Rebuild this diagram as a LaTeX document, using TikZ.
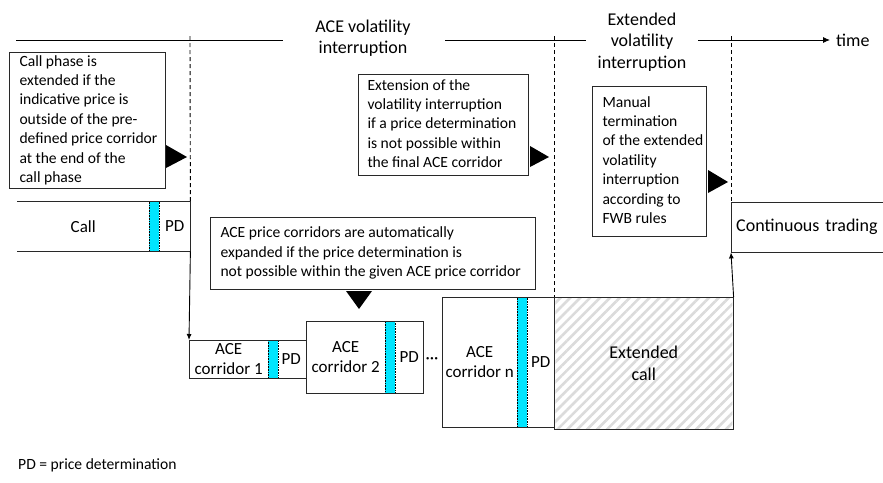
\documentclass[tikz,border=0pt]{standalone}
\usepackage{fontspec}
\setmainfont{Carlito}
\usetikzlibrary{arrows.meta,patterns.meta}
\definecolor{pdcyan}{RGB}{0,229,255}
\definecolor{edge}{RGB}{40,40,40}
\newcommand{\calltext}[3]{\makebox[#1pt][l]{\hspace{#2pt}\begin{tabular}{@{}l@{}}#3\end{tabular}}}
\begin{document}
\begin{tikzpicture}[x=1pt,y=-1pt,
  boxtext/.style={font=\fontsize{15.6}{19.4}\selectfont},
  lbl/.style={font=\fontsize{18}{21.5}\selectfont, align=center, inner sep=0pt},
  callout/.style={draw=edge, line width=1pt, boxtext, inner sep=0pt, anchor=north west},
  plabel/.style={font=\fontsize{17}{20}\selectfont, align=center, inner sep=0pt, anchor=north west},
  bigplabel/.style={font=\fontsize{18}{21.5}\selectfont, align=center, inner sep=0pt, anchor=north west},
  pdbar/.style={fill=pdcyan, draw=black, densely dotted, line width=0.6pt, anchor=north west, inner sep=0pt, minimum width=10pt},
  outline/.style={draw=edge, line width=1pt},
  tri/.style={fill=black},
  tl/.style={line width=0.9pt},
  vdash/.style={line width=0.9pt, dash pattern=on 4pt off 3pt},
  arr/.style={line width=0.9pt, -{Latex[length=6pt,width=5pt]}},
]
\useasboundingbox (0,0) rectangle (883,482);

% timeline
\coordinate (t0) at (16,40);
\coordinate (t1) at (283,40);
\coordinate (t2) at (445,40);
\coordinate (t3) at (586,40);
\coordinate (t4) at (698,40);
\coordinate (t5) at (830,40);
\node[lbl] (lab1) at (363,38) {ACE volatility\\interruption};
\node[lbl] (lab2) at (642,42) {Extended\\volatility\\interruption};
\node[lbl, anchor=west] (time) at (836,40) {time};
\draw[tl] (t0) -- (t1);
\draw[tl] (t2) -- (t3);
\draw[tl, -{Latex[length=7pt,width=6pt]}] (t4) -- (t5);

% Call phase
\node[plabel, minimum width=132pt, minimum height=50pt] (call) at (17,201) {Call};
\node[pdbar, minimum height=50pt] (bar0) at (149,201) {};
\node[plabel, minimum width=31pt, minimum height=50pt] (pd0) at (159,201) {PD};
\draw[outline] (call.north west) -- (pd0.north east) -- (pd0.south east) -- (call.south west);

% ACE corridor 1
\node[plabel, minimum width=79pt, minimum height=38pt] (c1) at (189,340) {ACE\\corridor 1};
\node[pdbar, minimum height=38pt] (bar1) at (268,340) {};
\node[plabel, minimum width=30pt, minimum height=38pt] (pd1) at (276,340) {PD};
\draw[outline] (c1.north west) rectangle (pd1.south east);

% ACE corridor 2
\node[plabel, minimum width=79pt, minimum height=72pt] (c2) at (306,321) {ACE\\corridor 2};
\node[pdbar, minimum height=72pt] (bar2) at (385,321) {};
\node[plabel, minimum width=28pt, minimum height=72pt] (pd2) at (395,321) {PD};
\draw[outline] (c2.north west) rectangle (pd2.south east);

\node[plabel, anchor=center] (dots) at (432,361) {\textperiodcentered\textperiodcentered\textperiodcentered};

% ACE corridor n
\node[plabel, minimum width=75pt, minimum height=130pt] (cn) at (442,297) {ACE\\corridor n};
\node[pdbar, minimum height=130pt] (barn) at (517,297) {};
\node[plabel, minimum width=27pt, minimum height=130pt] (pdn) at (527,297) {PD};
\draw[outline] (cn.north west) rectangle (pdn.south east);

% Extended call
\node[bigplabel, minimum width=177pt, minimum height=130pt,
      pattern={Lines[angle=45,distance=7pt,line width=2.6pt]}, pattern color=black!14] (ext) at (554,297) {Extended\\call};
\draw[outline] (ext.north west) rectangle (ext.south east);

% Continuous trading
\node[bigplabel, minimum width=152pt, minimum height=50pt, text width=142pt, align=left] (cont) at (731,202) {Continuous trading};
\draw[outline] (cont.north east) -- (cont.north west) -- (cont.south west) -- (cont.south east);

% dashed verticals
\coordinate (d1) at (190,36);
\coordinate (d2) at (554,36);
\coordinate (d3) at (731,36);
\draw[vdash] (d1) -- (pd0.north east);
\draw[vdash] (d2) -- (ext.north west);
\draw[vdash] (d3) -- (cont.north west);

% transitions
\draw[arr] (pd0.south east) -- (c1.north west);
\draw[arr] (ext.north east) -- (cont.south west);

% callouts
\node[callout, minimum width=156pt, minimum height=136pt] (n1) at (9,52)
  {\calltext{156}{10}{Call phase is\\extended if the\\indicative price is\\outside of the pre-\\defined price corridor\\at the end of the\\call phase}};
\node[callout, minimum width=170pt, minimum height=101pt] (n2) at (358,74)
  {\calltext{170}{9}{Extension of the\\volatility interruption\\if a price determination\\is not possible within\\the final ACE corridor}};
\node[callout, minimum width=114pt, minimum height=150pt] (n3) at (592,86)
  {\calltext{114}{10}{Manual\\termination\\of the extended\\volatility\\interruption\\according to\\FWB rules}};
\node[callout, minimum width=325pt, minimum height=72pt] (n4) at (210,217)
  {\calltext{325}{10}{ACE price corridors are automatically\\expanded if the price determination is\\not possible within the given ACE price corridor}};

% pointer triangles
\fill[tri] (166,145) -- (166,168) -- (187,157) -- cycle;
\fill[tri] (530,146) -- (530,167) -- (549,157) -- cycle;
\fill[tri] (708,170) -- (708,193) -- (728,182) -- cycle;
\fill[tri] (346,291) -- (372,291) -- (359,309) -- cycle;

% legend
\node[boxtext, anchor=west, inner sep=0pt] (legend) at (18,465) {PD = price determination};
\end{tikzpicture}
\end{document}
